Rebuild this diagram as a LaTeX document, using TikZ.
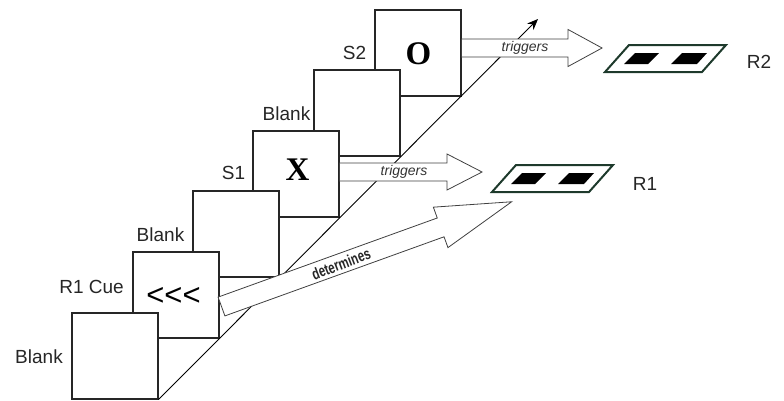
\documentclass[tikz,border=0pt]{standalone}
\usepackage{fontspec}
\setmainfont{Liberation Sans}
\newfontfamily\serifb{Liberation Serif}
\newfontfamily\narrowfont[FakeStretch=0.72]{Liberation Sans}
\usetikzlibrary{arrows.meta,calc}
\definecolor{devgreen}{HTML}{1E3A2C}
\begin{document}
\begin{tikzpicture}[x=1pt,y=-1pt,
  box/.style={draw=black!85, line width=1.1pt, fill=white, minimum width=86pt, minimum height=86pt, inner sep=0pt},
  lab/.style={font=\fontsize{19}{19}\selectfont, inner sep=0pt, text=black!85},
  big/.style={font=\serifb\bfseries\fontsize{33}{33}\selectfont, inner sep=0pt},
  trig/.style={font=\fontsize{14}{14}\selectfont\itshape, inner sep=0pt, text=black!80},
  blockarrow/.style={draw=black!75, line width=0.8pt, fill=white, line join=miter},
  device/.style={draw=devgreen, line width=2pt, fill=white, line join=miter},
  dev/.pic={
    \draw[device] (0,0) -- (97,0) -- (121,-27) -- (24,-27) -- cycle;
    \fill[black] (19,-8) -- (43,-8) -- (54,-19) -- (30,-19) -- cycle;
    \fill[black] (66,-8) -- (92,-8) -- (102,-19) -- (77,-19) -- cycle;
  }
]
\useasboundingbox (0,0) rectangle (784,400);

% boxes, top first so lower ones lie in front
\node[box] (b6) at (418,53) {};
\node[box] (b5) at (357,113) {};
\node[box] (b4) at (296,174) {};
\node[box] (b3) at (236,234) {};
\node[box] (b2) at (176,295) {};
\node[box] (b1) at (115,356) {};

% box contents
\node[big] (o) at (418.5,54) {O};
\node[big] (x) at (297.5,170) {X};
\node[font=\fontsize{31}{31}\selectfont, inner sep=0pt] (cue) at (173.5,296) {<\kern0pt<\kern0pt<};

% labels
\node[lab] (l1) at (39,357) {Blank};
\node[lab] (l2) at (91.5,287) {R1 Cue};
\node[lab] (l3) at (160.5,235) {Blank};
\node[lab] (l4) at (233.5,173) {S1};
\node[lab] (l5) at (286.5,114) {Blank};
\node[lab] (l6) at (354.5,53) {S2};

% time axis
\coordinate (tip) at (538,19);
\draw[line width=0.9pt, -{Stealth[length=11pt,width=9pt]}] (b1.south east) -- (tip);

% triggers arrows
\coordinate (a1) at ([yshift=2pt]b4.east);
\draw[blockarrow] (a1) ++(0,-9) -- ++(107.5,0) -- ++(0,-9) -- ++(35,18) -- ++(-35,18) -- ++(0,-9) -- ++(-107.5,0) -- cycle;
\node[trig] (tr1) at ($(a1)+(64.5,0)$) {triggers};

\coordinate (a2) at ([yshift=5pt]b6.east);
\draw[blockarrow] (a2) ++(0,-9) -- ++(106.5,0) -- ++(0,-9.5) -- ++(34,18.5) -- ++(-34,18.5) -- ++(0,-9.5) -- ++(-106.5,0) -- cycle;
\node[trig] (tr2) at ($(a2)+(63.5,0)$) {triggers};

% determines arrow
\begin{scope}[shift={(221.5,306.5)}, rotate=19.85]
  \draw[blockarrow] (0,-10) -- (233,-10) -- (233,-21.5) -- (308.5,0) -- (233,21.5) -- (233,10) -- (0,10) -- cycle;
\end{scope}
\node[rotate=21, font=\narrowfont\bfseries\fontsize{16}{16}\selectfont, inner sep=0pt, text=black!85] (det) at (341,264) {determines};

% response devices
\pic (r1dev) at (492,192) {dev};
\pic (r2dev) at (605,72) {dev};
\node[lab] (r1) at (645,184) {R1};
\node[lab] (r2) at (759,62) {R2};
\end{tikzpicture}
\end{document}
